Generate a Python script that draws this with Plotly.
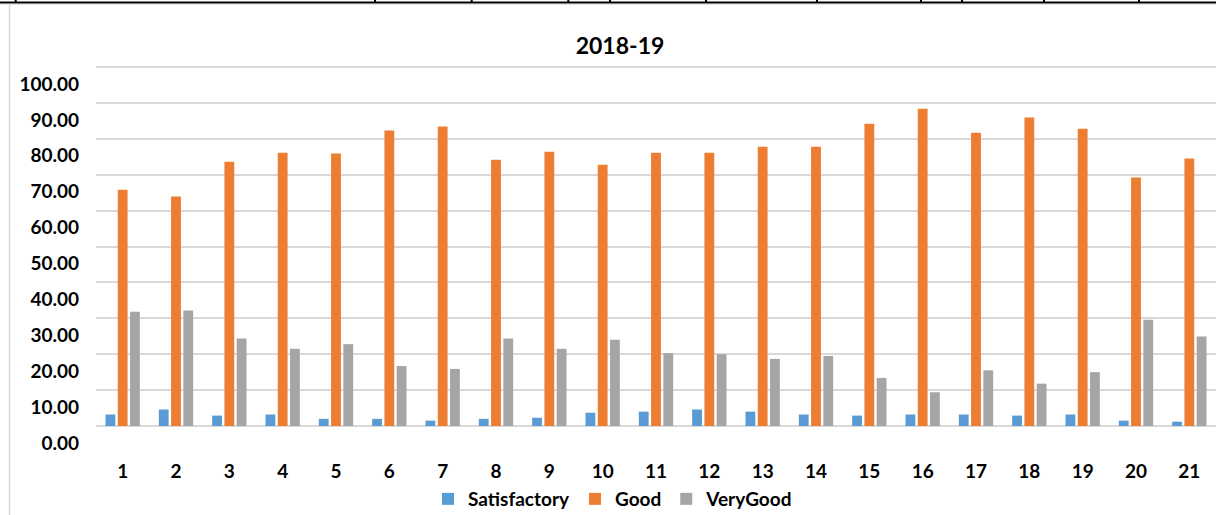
import plotly.graph_objects as go

# data
categories = [str(i) for i in range(1, 22)]
satisfactory = [3.2, 4.6, 2.9, 3.2, 2.0, 2.0, 1.5, 2.0, 2.3, 3.7, 4.0,
                4.6, 4.0, 3.2, 2.9, 3.2, 3.2, 2.9, 3.2, 1.5, 1.2]
good = [65.8, 63.9, 73.6, 76.1, 75.9, 82.3, 83.4, 74.2, 76.4, 72.8, 76.1,
        76.1, 77.8, 77.8, 84.2, 88.4, 81.7, 85.9, 82.8, 69.2, 74.5]
very_good = [31.8, 32.2, 24.4, 21.5, 22.8, 16.7, 15.9, 24.4, 21.5, 24.0, 20.3,
             20.0, 18.7, 19.5, 13.4, 9.4, 15.5, 11.8, 15.0, 29.6, 24.9]
y_ticks = [0, 10, 20, 30, 40, 50, 60, 70, 80, 90, 100]

series = [('Satisfactory', satisfactory, '#5B9BD5'),
          ('Good', good, '#ED7D31'),
          ('VeryGood', very_good, '#A5A5A5')]

W, H = 1216, 515
ML, MR, MT, MB = 96, 0, 66, 89
FONT = 'Lato'


def px_x(x):
    return (x - ML) / (W - ML - MR)


def px_y(y):
    return (H - MB - y) / (H - MT - MB)


fig = go.Figure()
for name, vals, color in series:
    fig.add_trace(go.Bar(x=categories, y=vals, name=name,
                         marker=dict(color=color, line=dict(width=0))))

# spreadsheet cell borders around the chart
shapes = [dict(type='line', xref='paper', yref='paper',
               x0=px_x(0), x1=px_x(W), y0=px_y(2.5), y1=px_y(2.5),
               line=dict(color='black', width=2)),
          dict(type='line', xref='paper', yref='paper',
               x0=px_x(0), x1=px_x(W), y0=px_y(4.5), y1=px_y(4.5),
               line=dict(color='#e6e6e6', width=1)),
          dict(type='line', xref='paper', yref='paper',
               x0=px_x(9.5), x1=px_x(9.5), y0=px_y(5), y1=px_y(H),
               line=dict(color='#d9d9d9', width=1.5))]
for vx in [15.7, 375, 471.7, 568.3, 610, 706, 817, 921, 962, 1044, 1139]:
    shapes.append(dict(type='line', xref='paper', yref='paper',
                       x0=px_x(vx), x1=px_x(vx), y0=px_y(0), y1=px_y(3),
                       line=dict(color='black', width=2)))

fig.update_layout(
    width=W, height=H,
    margin=dict(l=ML, r=MR, t=MT, b=MB, autoexpand=False),
    paper_bgcolor='white', plot_bgcolor='white',
    font=dict(family=FONT, size=19, color='black', weight='bold'),
    title=dict(text='2018-19', x=620 / W, xanchor='center',
               y=1 - 46 / H, yanchor='middle',
               font=dict(family=FONT, size=23, color='black', weight='bold')),
    barmode='group', bargap=0.31, bargroupgap=0.2,
    showlegend=True,
    legend=dict(orientation='h', x=px_x(428), xanchor='left',
                y=px_y(499), yanchor='middle',
                font=dict(family=FONT, size=19, color='black', weight='bold'),
                bgcolor='rgba(0,0,0,0)'),
    shapes=shapes,
)
fig.update_xaxes(type='category', showgrid=False, showline=False, ticks='',
                 ticklabelstandoff=32, zeroline=False)
fig.update_yaxes(range=[0, 100.28], tickvals=y_ticks, tickformat='.2f',
                 showgrid=True, gridcolor='#d9d9d9', gridwidth=1.5,
                 zeroline=True, zerolinecolor='#d9d9d9', zerolinewidth=2,
                 ticks='', ticklabelstandoff=16, ticklabelshift=17)

fig.write_html("out.html", config={'displayModeBar': False},
               post_script="document.body.style.margin='0';"
                           "document.body.style.overflow='hidden';")
